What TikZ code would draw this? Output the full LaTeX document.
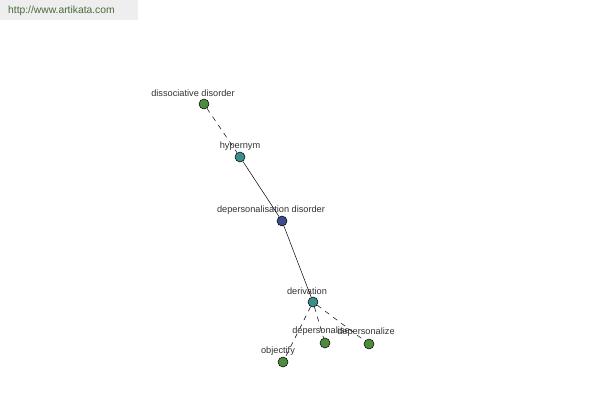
\documentclass[tikz,border=0pt]{standalone}
\usepackage{fontspec}
\setmainfont{Liberation Sans}
\definecolor{cgreen}{HTML}{4C8C3C}
\definecolor{cteal}{HTML}{3C8C8C}
\definecolor{cblue}{HTML}{3C4C8C}
\definecolor{bannerbg}{HTML}{EEEEEE}
\definecolor{bannertx}{HTML}{4A6A3A}
\definecolor{lbl}{HTML}{333333}
\begin{document}
\begin{tikzpicture}[x=1pt,y=-1pt,
  dot/.style={circle,draw=black,line width=0.5pt,minimum size=10pt,inner sep=0pt},
  lab/.style={font=\fontsize{9.2}{10}\selectfont,text=lbl,inner sep=0pt},
  rel/.style={line width=0.5pt,black},
  relb/.style={line width=0.5pt,black,dash pattern=on 5pt off 5pt}]
\useasboundingbox (0,0) rectangle (600,400);
\fill[white] (0,0) rectangle (600,400);
\node[fill=bannerbg,minimum width=138pt,minimum height=20pt,inner sep=0pt,anchor=north west] (banner) at (0,0) {};
\node[font=\fontsize{10.3}{12}\selectfont,text=bannertx,anchor=west,inner sep=0pt] (url) at (8,11) {http://www.artikata.com};
% nodes
\node[dot,fill=cgreen] (dd) at (204,104) {};
\node[dot,fill=cteal] (hy) at (240,157) {};
\node[dot,fill=cblue] (dp) at (282,221) {};
\node[dot,fill=cteal] (de) at (313,302) {};
\node[dot,fill=cgreen] (ds) at (325,343) {};
\node[dot,fill=cgreen] (dz) at (369,344) {};
\node[dot,fill=cgreen] (ob) at (283,362) {};
% labels
\node[lab] (ldd) at (193,93) {dissociative disorder};
\node[lab] (lhy) at (240,146) {hypernym};
\node[lab] (ldp) at (271,210) {depersonalisation disorder};
\node[lab] (lde) at (307,291) {derivation};
\node[lab] (lds) at (321,331) {depersonalise};
\node[lab] (ldz) at (366,332) {depersonalize};
\node[lab] (lob) at (278,351) {objectify};
% edges
\draw[relb] (dd) -- (hy);
\draw[rel] (hy) -- (dp);
\draw[rel] (dp) -- (de);
\draw[relb] (de) -- (ob);
\draw[relb] (de) -- (ds);
\draw[relb] (de) -- (dz);
\end{tikzpicture}
\end{document}
